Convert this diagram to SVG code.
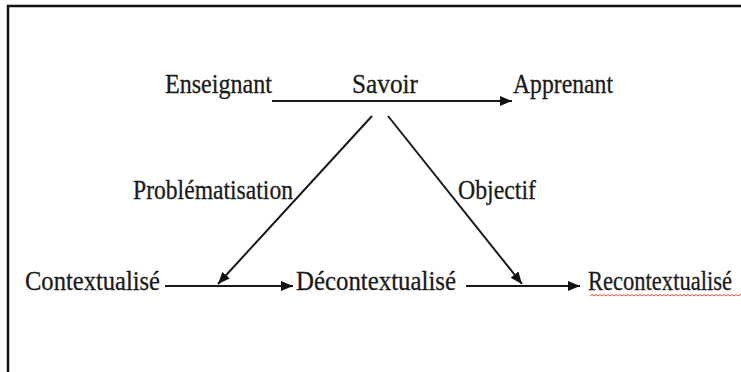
<svg xmlns="http://www.w3.org/2000/svg" width="741" height="372" viewBox="0 0 741 372">
<defs>
<marker id="arr" viewBox="0 0 12 10" refX="12" refY="5" markerWidth="12" markerHeight="10" markerUnits="userSpaceOnUse" orient="auto">
<path d="M0,0 L12,5 L0,10 Z" fill="#111"/>
</marker>
</defs>
<style>
.t{font-family:"Liberation Serif","Times New Roman",serif;font-size:28px;fill:#1a1a1a;stroke:#1a1a1a;stroke-width:0.3}
.c{stroke:#1a1a1a;stroke-width:2;fill:none}
</style>
<rect x="0" y="0" width="741" height="372" fill="#fff"/>
<rect x="8" y="6" width="800" height="420" fill="none" stroke="#111" stroke-width="2.5"/>
<g id="connectors">
<line class="c" x1="272" y1="101" x2="512" y2="101" marker-end="url(#arr)"/>
<line class="c" x1="372" y1="116" x2="218" y2="284" marker-end="url(#arr)"/>
<line class="c" x1="388" y1="116" x2="522" y2="284" marker-end="url(#arr)"/>
<line class="c" x1="165" y1="286" x2="293" y2="286" marker-end="url(#arr)"/>
<line class="c" x1="466" y1="286" x2="580" y2="286" marker-end="url(#arr)"/>
</g>
<g id="enseignant"><text class="t" x="165" y="93" textLength="107" lengthAdjust="spacingAndGlyphs">Enseignant</text></g>
<g id="savoir"><text class="t" x="352" y="93" textLength="66" lengthAdjust="spacingAndGlyphs">Savoir</text></g>
<g id="apprenant"><text class="t" x="513" y="93" textLength="100" lengthAdjust="spacingAndGlyphs">Apprenant</text></g>
<g id="problematisation"><text class="t" x="133" y="199" textLength="160" lengthAdjust="spacingAndGlyphs">Problématisation</text></g>
<g id="objectif"><text class="t" x="458" y="199" textLength="78" lengthAdjust="spacingAndGlyphs">Objectif</text></g>
<g id="contextualise"><text class="t" x="25" y="290" textLength="135" lengthAdjust="spacingAndGlyphs">Contextualisé</text></g>
<g id="decontextualise"><text class="t" x="296" y="290" textLength="160" lengthAdjust="spacingAndGlyphs">Décontextualisé</text></g>
<g id="recontextualise"><text class="t" x="588" y="290" textLength="144" lengthAdjust="spacingAndGlyphs">Recontextualisé</text>
<path d="M590,296 l2,-1.5 l2,1.5 l2,-1.5 l2,1.5 l2,-1.5 l2,1.5 l2,-1.5 l2,1.5 l2,-1.5 l2,1.5 l2,-1.5 l2,1.5 l2,-1.5 l2,1.5 l2,-1.5 l2,1.5 l2,-1.5 l2,1.5 l2,-1.5 l2,1.5 l2,-1.5 l2,1.5 l2,-1.5 l2,1.5 l2,-1.5 l2,1.5 l2,-1.5 l2,1.5 l2,-1.5 l2,1.5 l2,-1.5 l2,1.5 l2,-1.5 l2,1.5 l2,-1.5 l2,1.5 l2,-1.5 l2,1.5 l2,-1.5 l2,1.5 l2,-1.5 l2,1.5 l2,-1.5 l2,1.5 l2,-1.5 l2,1.5 l2,-1.5 l2,1.5 l2,-1.5 l2,1.5 l2,-1.5 l2,1.5 l2,-1.5 l2,1.5 l2,-1.5 l2,1.5 l2,-1.5 l2,1.5 l2,-1.5 l2,1.5 l2,-1.5 l2,1.5 l2,-1.5 l2,1.5 l2,-1.5 l2,1.5 l2,-1.5 l2,1.5 l2,-1.5 l2,1.5 l2,-1.5 l2,1.5 l2,-1.5 l2,1.5 l2,-1.5 l2,1.5 l2,-1.5" fill="none" stroke="#e05040" stroke-width="1"/>
</g>
</svg>
